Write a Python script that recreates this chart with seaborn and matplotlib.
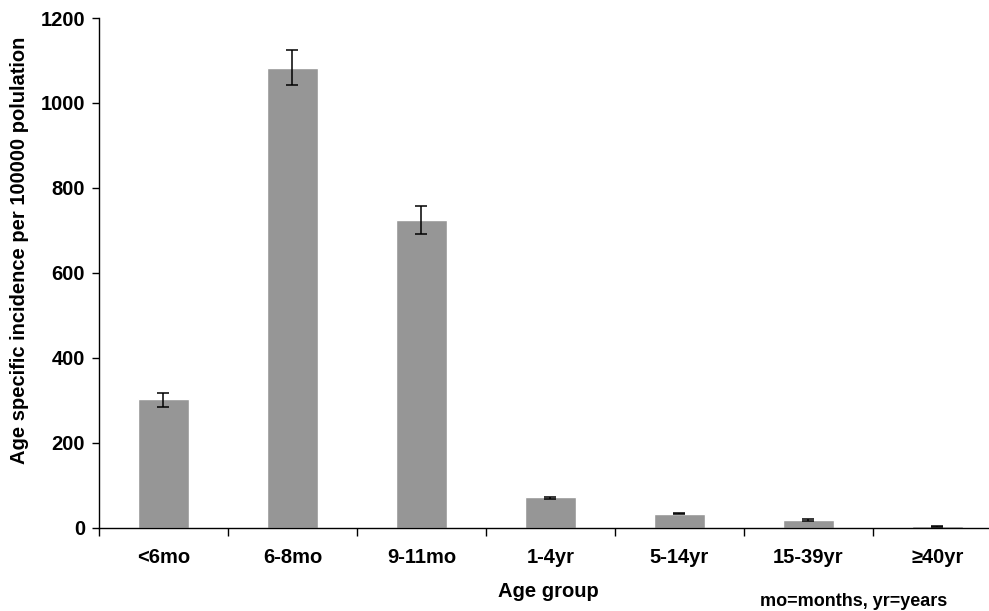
import numpy as np
import pandas as pd
import matplotlib
matplotlib.use("Agg")
import matplotlib.pyplot as plt
import seaborn as sns

# Data
age_groups = ["<6mo", "6-8mo", "9-11mo", "1-4yr", "5-14yr", "15-39yr", "\u226540yr"]
incidence = [302, 1083, 725, 71, 33, 18, 3]
ci_lower = [284, 1042, 692, 68, 31, 16.5, 2.3]
ci_upper = [318, 1125, 758, 73, 35, 19.5, 3.7]

df = pd.DataFrame({"age_group": age_groups, "incidence": incidence})

sns.set_style("ticks")
plt.rcParams["font.family"] = ["Liberation Sans", "DejaVu Sans"]
plt.rcParams["font.weight"] = "bold"
plt.rcParams["text.color"] = "black"
plt.rcParams["axes.labelcolor"] = "black"
plt.rcParams["xtick.color"] = "black"
plt.rcParams["ytick.color"] = "black"
plt.rcParams["axes.edgecolor"] = "black"

fig = plt.figure(figsize=(9.89, 6.11), dpi=100)
ax = fig.add_axes([0.1, 0.1365, 0.9, 0.834])

sns.barplot(data=df, x="age_group", y="incidence", color="#969696",
            saturation=1, width=0.4, errorbar=None, ax=ax)

x = np.arange(len(age_groups))
yerr = [np.array(incidence) - np.array(ci_lower), np.array(ci_upper) - np.array(incidence)]
ax.errorbar(x, incidence, yerr=yerr, fmt="none", ecolor="black",
            elinewidth=1.1, capsize=4.5, capthick=1.1)

ax.set_xlim(-0.5, 6.4)
ax.set_ylim(0, 1200)
ax.set_yticks(np.arange(0, 1201, 200))

# Excel style: tick marks between categories, labels centred under bars
ax.set_xticks(np.arange(len(age_groups)) - 0.5)
ax.set_xticklabels([])
ax.set_xticks(x, minor=True)
ax.set_xticklabels(age_groups, minor=True, fontsize=14.5, fontweight="bold")
ax.tick_params(axis="x", which="major", direction="out", length=6, width=1)
ax.tick_params(axis="x", which="minor", length=0, pad=15)
ax.tick_params(axis="y", direction="out", length=5, width=1, pad=5,
               labelsize=14.5)
for lbl in ax.get_yticklabels():
    lbl.set_fontweight("bold")

sns.despine(ax=ax)
ax.spines["left"].set_linewidth(1)
ax.spines["bottom"].set_linewidth(1)

ax.set_xlabel("Age group", fontsize=14.5, fontweight="bold")
ax.set_ylabel("Age specific incidence per 100000 polulation", fontsize=14.5,
              fontweight="bold")
ax.yaxis.set_label_coords(-0.079, 0.545)
ax.xaxis.set_label_coords(0.5045, -0.106)

fig.text(0.863, 0.015, "mo=months, yr=years", fontsize=13, fontweight="bold",
         ha="center", va="center")

fig.savefig("out.png", dpi=100)
